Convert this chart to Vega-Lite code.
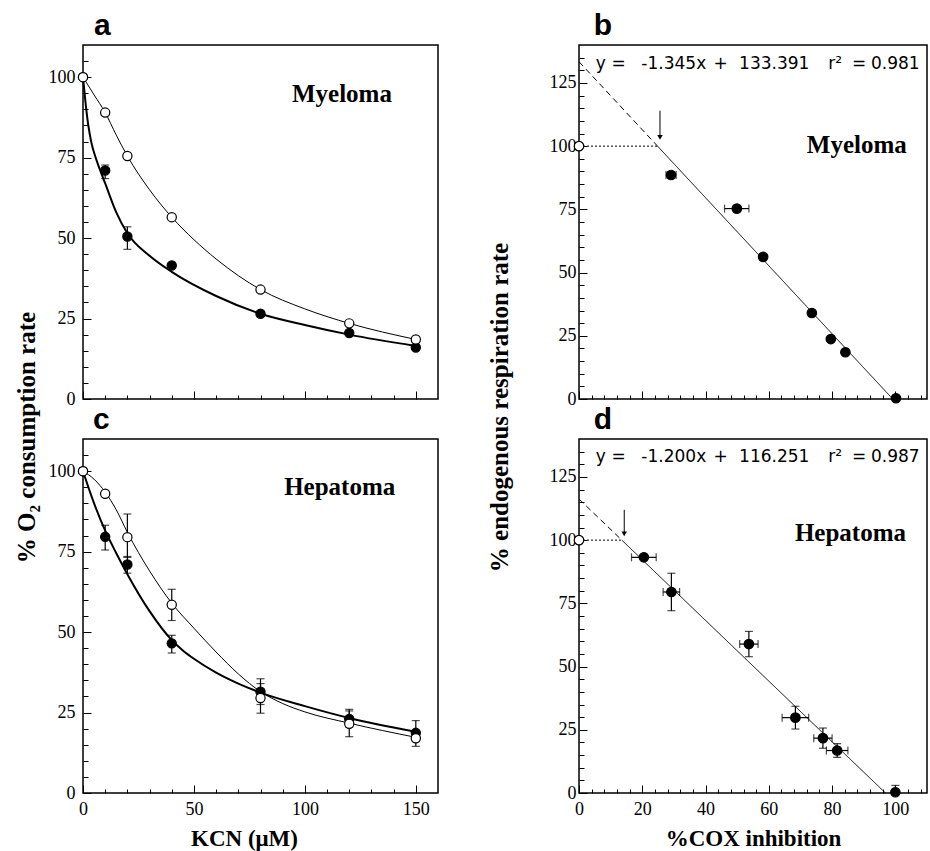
{
  "$schema": "https://vega.github.io/schema/vega-lite/v6.json",
  "background": "white",
  "padding": {"left": 13, "top": 10, "right": 0, "bottom": 0},
  "columns": 2,
  "bounds": "flush",
  "spacing": {"row": 40, "column": 141},
  "datasets": {
    "a_curve": [
      {"x": 0, "y": 100, "s": "filled"}, {"x": 1, "y": 93, "s": "filled"}, {"x": 2, "y": 87, "s": "filled"}, {"x": 3, "y": 82.5, "s": "filled"}, {"x": 4, "y": 79, "s": "filled"}, {"x": 5, "y": 76.5, "s": "filled"}, {"x": 7.5, "y": 71.5, "s": "filled"}, {"x": 10, "y": 67, "s": "filled"}, {"x": 15, "y": 58, "s": "filled"}, {"x": 20, "y": 51.5, "s": "filled"}, {"x": 30, "y": 44.5, "s": "filled"}, {"x": 40, "y": 39.5, "s": "filled"}, {"x": 60, "y": 32, "s": "filled"}, {"x": 80, "y": 26.5, "s": "filled"}, {"x": 100, "y": 23, "s": "filled"}, {"x": 120, "y": 20, "s": "filled"}, {"x": 150, "y": 16.5, "s": "filled"},
      {"x": 0, "y": 100, "s": "open"}, {"x": 5, "y": 94.5, "s": "open"}, {"x": 10, "y": 89, "s": "open"}, {"x": 15, "y": 82, "s": "open"}, {"x": 20, "y": 75.5, "s": "open"}, {"x": 30, "y": 65, "s": "open"}, {"x": 40, "y": 56.5, "s": "open"}, {"x": 50, "y": 49.5, "s": "open"}, {"x": 60, "y": 43.5, "s": "open"}, {"x": 80, "y": 34, "s": "open"}, {"x": 100, "y": 28, "s": "open"}, {"x": 120, "y": 23.5, "s": "open"}, {"x": 150, "y": 18.5, "s": "open"}
    ],
    "a_pts": [
      {"x": 0, "y": 100, "s": "filled"}, {"x": 10, "y": 71, "s": "filled"}, {"x": 20, "y": 50.5, "s": "filled"}, {"x": 40, "y": 41.5, "s": "filled"}, {"x": 80, "y": 26.5, "s": "filled"}, {"x": 120, "y": 20.5, "s": "filled"}, {"x": 150, "y": 16, "s": "filled"},
      {"x": 0, "y": 100, "s": "open"}, {"x": 10, "y": 89, "s": "open"}, {"x": 20, "y": 75.5, "s": "open"}, {"x": 40, "y": 56.5, "s": "open"}, {"x": 80, "y": 34, "s": "open"}, {"x": 120, "y": 23.5, "s": "open"}, {"x": 150, "y": 18.5, "s": "open"}
    ],
    "a_err": [
      {"x": 10, "lo": 68.5, "hi": 72.7}, {"x": 20, "lo": 46.5, "hi": 53.5}
    ],
    "c_curve": [
      {"x": 0, "y": 100, "s": "filled"}, {"x": 5, "y": 90, "s": "filled"}, {"x": 10, "y": 81.5, "s": "filled"}, {"x": 15, "y": 74.5, "s": "filled"}, {"x": 20, "y": 68, "s": "filled"}, {"x": 30, "y": 56.5, "s": "filled"}, {"x": 40, "y": 47.5, "s": "filled"}, {"x": 45, "y": 44.3, "s": "filled"}, {"x": 50, "y": 41.7, "s": "filled"}, {"x": 60, "y": 37.4, "s": "filled"}, {"x": 70, "y": 34, "s": "filled"}, {"x": 80, "y": 31.2, "s": "filled"}, {"x": 100, "y": 27, "s": "filled"}, {"x": 120, "y": 23.3, "s": "filled"}, {"x": 150, "y": 19, "s": "filled"},
      {"x": 0, "y": 100, "s": "open"}, {"x": 5, "y": 97.5, "s": "open"}, {"x": 10, "y": 93.5, "s": "open"}, {"x": 15, "y": 88, "s": "open"}, {"x": 20, "y": 81, "s": "open"}, {"x": 30, "y": 69, "s": "open"}, {"x": 40, "y": 59, "s": "open"}, {"x": 50, "y": 51.2, "s": "open"}, {"x": 60, "y": 43.8, "s": "open"}, {"x": 70, "y": 37, "s": "open"}, {"x": 80, "y": 31.5, "s": "open"}, {"x": 90, "y": 27.8, "s": "open"}, {"x": 100, "y": 25.2, "s": "open"}, {"x": 120, "y": 21.7, "s": "open"}, {"x": 150, "y": 17.3, "s": "open"}
    ],
    "c_pts": [
      {"x": 0, "y": 100, "s": "filled"}, {"x": 10, "y": 79.6, "s": "filled"}, {"x": 20, "y": 71, "s": "filled"}, {"x": 40, "y": 46.5, "s": "filled"}, {"x": 80, "y": 31.5, "s": "filled"}, {"x": 120, "y": 23, "s": "filled"}, {"x": 150, "y": 18.7, "s": "filled"},
      {"x": 0, "y": 100, "s": "open"}, {"x": 10, "y": 93, "s": "open"}, {"x": 20, "y": 79.5, "s": "open"}, {"x": 40, "y": 58.5, "s": "open"}, {"x": 80, "y": 29.5, "s": "open"}, {"x": 120, "y": 21.5, "s": "open"}, {"x": 150, "y": 17, "s": "open"}
    ],
    "c_err": [
      {"x": 10, "lo": 75.5, "hi": 83.2}, {"x": 20, "lo": 68.3, "hi": 73.5}, {"x": 40, "lo": 43.5, "hi": 49}, {"x": 80, "lo": 27.5, "hi": 35.5}, {"x": 120, "lo": 20.5, "hi": 25.5}, {"x": 150, "lo": 16, "hi": 22.5},
      {"x": 20, "lo": 73.2, "hi": 86.7}, {"x": 40, "lo": 53.6, "hi": 63.3}, {"x": 80, "lo": 24.8, "hi": 34}, {"x": 120, "lo": 17.5, "hi": 26}, {"x": 150, "lo": 14.5, "hi": 19}
    ],
    "b_lines": [
      {"x": 0, "y": 133.391, "s": "dash"}, {"x": 24.83, "y": 100, "s": "dash"},
      {"x": 24.83, "y": 100, "s": "solid"}, {"x": 99.17, "y": 0, "s": "solid"},
      {"x": 0, "y": 100, "s": "dot"}, {"x": 24.83, "y": 100, "s": "dot"}
    ],
    "b_pts": [
      {"x": 29.1, "y": 88.6, "s": "filled"}, {"x": 49.9, "y": 75.3, "s": "filled"}, {"x": 58.2, "y": 56.2, "s": "filled"}, {"x": 73.6, "y": 34, "s": "filled"}, {"x": 79.6, "y": 23.7, "s": "filled"}, {"x": 84.2, "y": 18.5, "s": "filled"}, {"x": 100.2, "y": 0.3, "s": "filled"},
      {"x": 0, "y": 100, "s": "open"}
    ],
    "b_xerr": [
      {"y": 88.6, "lo": 27.5, "hi": 30.7}, {"y": 75.3, "lo": 46, "hi": 53.7}
    ],
    "b_arrow": [{"x": 25.6, "y": 114, "y2": 104}],
    "b_head": [{"x": 25.6, "y": 103.5}],
    "b_eq": [
      {"x": 5.3, "y": 132.5, "t": "y"}, {"x": 10.3, "y": 132.5, "t": "="}, {"x": 19.7, "y": 132.5, "t": "-1.345x"}, {"x": 42.5, "y": 132.5, "t": "+"}, {"x": 50.6, "y": 132.5, "t": "133.391"}, {"x": 78.8, "y": 132.5, "t": "r²"}, {"x": 86.3, "y": 132.5, "t": "="}, {"x": 92.3, "y": 132.5, "t": "0.981"}
    ],
    "d_lines": [
      {"x": 0, "y": 116.251, "s": "dash"}, {"x": 13.54, "y": 100, "s": "dash"},
      {"x": 13.54, "y": 100, "s": "solid"}, {"x": 96.88, "y": 0, "s": "solid"},
      {"x": 0, "y": 100, "s": "dot"}, {"x": 13.54, "y": 100, "s": "dot"}
    ],
    "d_pts": [
      {"x": 20.5, "y": 93.2, "s": "filled"}, {"x": 29.2, "y": 79.5, "s": "filled"}, {"x": 53.7, "y": 58.9, "s": "filled"}, {"x": 68.4, "y": 29.8, "s": "filled"}, {"x": 77.1, "y": 21.7, "s": "filled"}, {"x": 81.6, "y": 16.8, "s": "filled"}, {"x": 100, "y": 0.3, "s": "filled"},
      {"x": 0, "y": 100, "s": "open"}
    ],
    "d_yerr": [
      {"x": 29.2, "lo": 72.1, "hi": 86.9}, {"x": 53.7, "lo": 53.9, "hi": 63.9}, {"x": 68.4, "lo": 25.3, "hi": 34.3}, {"x": 77.1, "lo": 17.7, "hi": 25.7}, {"x": 81.6, "lo": 14.1, "hi": 19.5}, {"x": 100, "lo": 0, "hi": 3}
    ],
    "d_xerr": [
      {"y": 93.2, "lo": 16.6, "hi": 24.4}, {"y": 79.5, "lo": 26.6, "hi": 31.8}, {"y": 58.9, "lo": 50.8, "hi": 56.6}, {"y": 29.8, "lo": 64.2, "hi": 72.6}, {"y": 21.7, "lo": 74.2, "hi": 80}, {"y": 16.8, "lo": 78.2, "hi": 85}
    ],
    "d_arrow": [{"x": 14.3, "y": 112, "y2": 103}],
    "d_head": [{"x": 14.3, "y": 102.5}],
    "d_eq": [
      {"x": 5.3, "y": 133, "t": "y"}, {"x": 10.3, "y": 133, "t": "="}, {"x": 19.7, "y": 133, "t": "-1.200x"}, {"x": 42.5, "y": 133, "t": "+"}, {"x": 50.6, "y": 133, "t": "116.251"}, {"x": 78.8, "y": 133, "t": "r²"}, {"x": 86.3, "y": 133, "t": "="}, {"x": 92.3, "y": 133, "t": "0.987"}
    ],
    "dummy": [{"x": 0, "y": 0}]
  },
  "concat": [
    {
      "width": 355, "height": 354,
      "resolve": {"scale": {"x": "independent", "y": "independent"}, "axis": {"x": "independent", "y": "independent"}},
      "layer": [
        {
          "layer": [
            {
              "data": {"name": "a_curve"},
              "mark": {"type": "line", "interpolate": "monotone", "color": "black"},
              "encoding": {
                "x": {"field": "x", "type": "quantitative", "scale": {"domain": [0, 160], "nice": false}, "axis": null},
                "y": {"field": "y", "type": "quantitative", "scale": {"domain": [0, 110], "nice": false}, "axis": null},
                "strokeWidth": {"field": "s", "type": "nominal", "scale": {"domain": ["filled", "open"], "range": [2, 1]}, "legend": null}
              }
            },
            {
              "data": {"name": "a_err"},
              "mark": {"type": "errorbar", "ticks": true, "size": 8, "thickness": 1.2, "color": "black"},
              "encoding": {
                "x": {"field": "x", "type": "quantitative", "axis": null},
                "y": {"field": "lo", "type": "quantitative", "axis": null},
                "y2": {"field": "hi"}
              }
            },
            {
              "data": {"name": "a_pts"},
              "mark": {"type": "point", "filled": true, "size": 85, "stroke": "black", "strokeWidth": 1.2, "opacity": 1},
              "encoding": {
                "x": {"field": "x", "type": "quantitative", "axis": null},
                "y": {"field": "y", "type": "quantitative", "axis": null},
                "fill": {"field": "s", "type": "nominal", "scale": {"domain": ["filled", "open"], "range": ["black", "white"]}, "legend": null}
              }
            },
            {
              "data": {"values": [{"x": 116.7, "y": 92.2, "t": "Myeloma"}]},
              "mark": {"type": "text", "font": "Liberation Serif", "fontWeight": "bold", "fontSize": 25, "align": "center", "baseline": "alphabetic", "color": "black"},
              "encoding": {
                "x": {"field": "x", "type": "quantitative", "axis": null},
                "y": {"field": "y", "type": "quantitative", "axis": null},
                "text": {"field": "t"}
              }
            },
            {
              "data": {"values": [{"x": 5, "y": 113.1, "t": "a"}]},
              "mark": {"type": "text", "font": "Liberation Sans", "fontWeight": "bold", "fontSize": 30, "align": "left", "baseline": "alphabetic", "color": "black"},
              "encoding": {
                "x": {"field": "x", "type": "quantitative", "axis": null},
                "y": {"field": "y", "type": "quantitative", "axis": null},
                "text": {"field": "t"}
              }
            }
          ]
        },
        {
          "data": {"name": "dummy"},
          "mark": {"type": "point", "opacity": 0},
          "encoding": {
            "x": {"field": "x", "type": "quantitative", "scale": {"domain": [0, 160], "nice": false}, "axis": {"orient": "bottom", "values": [0, 50, 100, 150], "labels": false, "tickSize": -8, "title": null}},
            "y": {"field": "y", "type": "quantitative", "scale": {"domain": [0, 110], "nice": false}, "axis": {"orient": "left", "values": [0, 25, 50, 75, 100], "tickSize": -8, "labelPadding": 16, "title": "% O₂ consumption rate", "titleX": -44, "titleY": 392, "titleBaseline": "bottom"}}
          }
        },
        {
          "data": {"name": "dummy"},
          "mark": {"type": "point", "opacity": 0},
          "encoding": {
            "x": {"field": "x", "type": "quantitative", "scale": {"domain": [0, 160], "nice": false}, "axis": {"orient": "bottom", "values": [10, 20, 30, 40, 60, 70, 80, 90, 110, 120, 130, 140], "labels": false, "tickSize": -4, "title": null}},
            "y": {"field": "y", "type": "quantitative", "scale": {"domain": [0, 110], "nice": false}, "axis": {"orient": "left", "values": [5, 10, 15, 20, 30, 35, 40, 45, 55, 60, 65, 70, 80, 85, 90, 95, 105], "labels": false, "tickSize": -5, "title": null}}
          }
        }
      ]
    },
    {
      "width": 348, "height": 354,
      "resolve": {"scale": {"x": "independent", "y": "independent"}, "axis": {"x": "independent", "y": "independent"}},
      "layer": [
        {
          "layer": [
            {
              "data": {"name": "b_lines"},
              "mark": {"type": "line", "color": "black", "strokeWidth": 1},
              "encoding": {
                "x": {"field": "x", "type": "quantitative", "scale": {"domain": [0, 110], "nice": false}, "axis": null},
                "y": {"field": "y", "type": "quantitative", "scale": {"domain": [0, 140], "nice": false}, "axis": null},
                "strokeDash": {"field": "s", "type": "nominal", "scale": {"domain": ["solid", "dash", "dot"], "range": [[1, 0], [6, 4], [2, 2]]}, "legend": null}
              }
            },
            {
              "data": {"name": "b_xerr"},
              "mark": {"type": "errorbar", "ticks": true, "size": 8, "thickness": 1.2, "color": "black"},
              "encoding": {
                "y": {"field": "y", "type": "quantitative", "axis": null},
                "x": {"field": "lo", "type": "quantitative", "axis": null},
                "x2": {"field": "hi"}
              }
            },
            {
              "data": {"name": "b_arrow"},
              "mark": {"type": "rule", "color": "black", "strokeWidth": 1},
              "encoding": {
                "x": {"field": "x", "type": "quantitative", "axis": null},
                "y": {"field": "y", "type": "quantitative", "axis": null},
                "y2": {"field": "y2"}
              }
            },
            {
              "data": {"name": "b_head"},
              "mark": {"type": "point", "shape": "triangle-down", "filled": true, "size": 30, "color": "black", "opacity": 1},
              "encoding": {
                "x": {"field": "x", "type": "quantitative", "axis": null},
                "y": {"field": "y", "type": "quantitative", "axis": null}
              }
            },
            {
              "data": {"name": "b_pts"},
              "mark": {"type": "point", "filled": true, "size": 90, "stroke": "black", "strokeWidth": 1.2, "opacity": 1},
              "encoding": {
                "x": {"field": "x", "type": "quantitative", "axis": null},
                "y": {"field": "y", "type": "quantitative", "axis": null},
                "fill": {"field": "s", "type": "nominal", "scale": {"domain": ["filled", "open"], "range": ["black", "white"]}, "legend": null}
              }
            },
            {
              "data": {"name": "b_eq"},
              "mark": {"type": "text", "font": "DejaVu Sans", "fontSize": 17, "align": "left", "baseline": "middle", "color": "black"},
              "encoding": {
                "x": {"field": "x", "type": "quantitative", "axis": null},
                "y": {"field": "y", "type": "quantitative", "axis": null},
                "text": {"field": "t"}
              }
            },
            {
              "data": {"values": [{"x": 87.8, "y": 97.2, "t": "Myeloma"}]},
              "mark": {"type": "text", "font": "Liberation Serif", "fontWeight": "bold", "fontSize": 25, "align": "center", "baseline": "alphabetic", "color": "black"},
              "encoding": {
                "x": {"field": "x", "type": "quantitative", "axis": null},
                "y": {"field": "y", "type": "quantitative", "axis": null},
                "text": {"field": "t"}
              }
            },
            {
              "data": {"values": [{"x": 4.7, "y": 144, "t": "b"}]},
              "mark": {"type": "text", "font": "Liberation Sans", "fontWeight": "bold", "fontSize": 30, "align": "left", "baseline": "alphabetic", "color": "black"},
              "encoding": {
                "x": {"field": "x", "type": "quantitative", "axis": null},
                "y": {"field": "y", "type": "quantitative", "axis": null},
                "text": {"field": "t"}
              }
            }
          ]
        },
        {
          "data": {"name": "dummy"},
          "mark": {"type": "point", "opacity": 0},
          "encoding": {
            "x": {"field": "x", "type": "quantitative", "scale": {"domain": [0, 110], "nice": false}, "axis": {"orient": "bottom", "values": [0, 20, 40, 60, 80, 100], "labels": false, "tickSize": -8, "title": null}},
            "y": {"field": "y", "type": "quantitative", "scale": {"domain": [0, 140], "nice": false}, "axis": {"orient": "left", "values": [0, 25, 50, 75, 100, 125], "tickSize": -8, "labelPadding": 11, "title": "% endogenous respiration rate", "titleX": -67, "titleY": 362, "titleBaseline": "bottom"}}
          }
        },
        {
          "data": {"name": "dummy"},
          "mark": {"type": "point", "opacity": 0},
          "encoding": {
            "x": {"field": "x", "type": "quantitative", "scale": {"domain": [0, 110], "nice": false}, "axis": {"orient": "bottom", "values": [4, 8, 12, 16, 24, 28, 32, 36, 44, 48, 52, 56, 64, 68, 72, 76, 84, 88, 92, 96, 104, 108], "labels": false, "tickSize": -4, "title": null}},
            "y": {"field": "y", "type": "quantitative", "scale": {"domain": [0, 140], "nice": false}, "axis": {"orient": "left", "values": [5, 10, 15, 20, 30, 35, 40, 45, 55, 60, 65, 70, 80, 85, 90, 95, 105, 110, 115, 120, 130, 135], "labels": false, "tickSize": -5, "title": null}}
          }
        }
      ]
    },
    {
      "width": 355, "height": 354,
      "resolve": {"scale": {"x": "independent", "y": "independent"}, "axis": {"x": "independent", "y": "independent"}},
      "layer": [
        {
          "layer": [
            {
              "data": {"name": "c_curve"},
              "mark": {"type": "line", "interpolate": "monotone", "color": "black"},
              "encoding": {
                "x": {"field": "x", "type": "quantitative", "scale": {"domain": [0, 160], "nice": false}, "axis": null},
                "y": {"field": "y", "type": "quantitative", "scale": {"domain": [0, 110], "nice": false}, "axis": null},
                "strokeWidth": {"field": "s", "type": "nominal", "scale": {"domain": ["filled", "open"], "range": [2, 1]}, "legend": null}
              }
            },
            {
              "data": {"name": "c_err"},
              "mark": {"type": "errorbar", "ticks": true, "size": 8, "thickness": 1.2, "color": "black"},
              "encoding": {
                "x": {"field": "x", "type": "quantitative", "axis": null},
                "y": {"field": "lo", "type": "quantitative", "axis": null},
                "y2": {"field": "hi"}
              }
            },
            {
              "data": {"name": "c_pts"},
              "mark": {"type": "point", "filled": true, "size": 85, "stroke": "black", "strokeWidth": 1.2, "opacity": 1},
              "encoding": {
                "x": {"field": "x", "type": "quantitative", "axis": null},
                "y": {"field": "y", "type": "quantitative", "axis": null},
                "fill": {"field": "s", "type": "nominal", "scale": {"domain": ["filled", "open"], "range": ["black", "white"]}, "legend": null}
              }
            },
            {
              "data": {"values": [{"x": 115.7, "y": 92.6, "t": "Hepatoma"}]},
              "mark": {"type": "text", "font": "Liberation Serif", "fontWeight": "bold", "fontSize": 25, "align": "center", "baseline": "alphabetic", "color": "black"},
              "encoding": {
                "x": {"field": "x", "type": "quantitative", "axis": null},
                "y": {"field": "y", "type": "quantitative", "axis": null},
                "text": {"field": "t"}
              }
            },
            {
              "data": {"values": [{"x": 4.5, "y": 113.1, "t": "c"}]},
              "mark": {"type": "text", "font": "Liberation Sans", "fontWeight": "bold", "fontSize": 30, "align": "left", "baseline": "alphabetic", "color": "black"},
              "encoding": {
                "x": {"field": "x", "type": "quantitative", "axis": null},
                "y": {"field": "y", "type": "quantitative", "axis": null},
                "text": {"field": "t"}
              }
            }
          ]
        },
        {
          "data": {"name": "dummy"},
          "mark": {"type": "point", "opacity": 0},
          "encoding": {
            "x": {"field": "x", "type": "quantitative", "scale": {"domain": [0, 160], "nice": false}, "axis": {"orient": "bottom", "values": [0, 50, 100, 150], "tickSize": -8, "labelPadding": 15, "title": "KCN (μM)", "titleFontSize": 23, "titleX": 161, "titleY": 52, "titleBaseline": "alphabetic"}},
            "y": {"field": "y", "type": "quantitative", "scale": {"domain": [0, 110], "nice": false}, "axis": {"orient": "left", "values": [0, 25, 50, 75, 100], "tickSize": -8, "labelPadding": 16, "title": null}}
          }
        },
        {
          "data": {"name": "dummy"},
          "mark": {"type": "point", "opacity": 0},
          "encoding": {
            "x": {"field": "x", "type": "quantitative", "scale": {"domain": [0, 160], "nice": false}, "axis": {"orient": "bottom", "values": [10, 20, 30, 40, 60, 70, 80, 90, 110, 120, 130, 140], "labels": false, "tickSize": -4, "title": null}},
            "y": {"field": "y", "type": "quantitative", "scale": {"domain": [0, 110], "nice": false}, "axis": {"orient": "left", "values": [5, 10, 15, 20, 30, 35, 40, 45, 55, 60, 65, 70, 80, 85, 90, 95, 105], "labels": false, "tickSize": -5, "title": null}}
          }
        }
      ]
    },
    {
      "width": 348, "height": 354,
      "resolve": {"scale": {"x": "independent", "y": "independent"}, "axis": {"x": "independent", "y": "independent"}},
      "layer": [
        {
          "layer": [
            {
              "data": {"name": "d_lines"},
              "mark": {"type": "line", "color": "black", "strokeWidth": 1},
              "encoding": {
                "x": {"field": "x", "type": "quantitative", "scale": {"domain": [0, 110], "nice": false}, "axis": null},
                "y": {"field": "y", "type": "quantitative", "scale": {"domain": [0, 140], "nice": false}, "axis": null},
                "strokeDash": {"field": "s", "type": "nominal", "scale": {"domain": ["solid", "dash", "dot"], "range": [[1, 0], [6, 4], [2, 2]]}, "legend": null}
              }
            },
            {
              "data": {"name": "d_yerr"},
              "mark": {"type": "errorbar", "ticks": true, "size": 8, "thickness": 1.2, "color": "black"},
              "encoding": {
                "x": {"field": "x", "type": "quantitative", "axis": null},
                "y": {"field": "lo", "type": "quantitative", "axis": null},
                "y2": {"field": "hi"}
              }
            },
            {
              "data": {"name": "d_xerr"},
              "mark": {"type": "errorbar", "ticks": true, "size": 8, "thickness": 1.2, "color": "black"},
              "encoding": {
                "y": {"field": "y", "type": "quantitative", "axis": null},
                "x": {"field": "lo", "type": "quantitative", "axis": null},
                "x2": {"field": "hi"}
              }
            },
            {
              "data": {"name": "d_arrow"},
              "mark": {"type": "rule", "color": "black", "strokeWidth": 1},
              "encoding": {
                "x": {"field": "x", "type": "quantitative", "axis": null},
                "y": {"field": "y", "type": "quantitative", "axis": null},
                "y2": {"field": "y2"}
              }
            },
            {
              "data": {"name": "d_head"},
              "mark": {"type": "point", "shape": "triangle-down", "filled": true, "size": 30, "color": "black", "opacity": 1},
              "encoding": {
                "x": {"field": "x", "type": "quantitative", "axis": null},
                "y": {"field": "y", "type": "quantitative", "axis": null}
              }
            },
            {
              "data": {"name": "d_pts"},
              "mark": {"type": "point", "filled": true, "size": 90, "stroke": "black", "strokeWidth": 1.2, "opacity": 1},
              "encoding": {
                "x": {"field": "x", "type": "quantitative", "axis": null},
                "y": {"field": "y", "type": "quantitative", "axis": null},
                "fill": {"field": "s", "type": "nominal", "scale": {"domain": ["filled", "open"], "range": ["black", "white"]}, "legend": null}
              }
            },
            {
              "data": {"name": "d_eq"},
              "mark": {"type": "text", "font": "DejaVu Sans", "fontSize": 17, "align": "left", "baseline": "middle", "color": "black"},
              "encoding": {
                "x": {"field": "x", "type": "quantitative", "axis": null},
                "y": {"field": "y", "type": "quantitative", "axis": null},
                "text": {"field": "t"}
              }
            },
            {
              "data": {"values": [{"x": 85.8, "y": 99.6, "t": "Hepatoma"}]},
              "mark": {"type": "text", "font": "Liberation Serif", "fontWeight": "bold", "fontSize": 25, "align": "center", "baseline": "alphabetic", "color": "black"},
              "encoding": {
                "x": {"field": "x", "type": "quantitative", "axis": null},
                "y": {"field": "y", "type": "quantitative", "axis": null},
                "text": {"field": "t"}
              }
            },
            {
              "data": {"values": [{"x": 4.7, "y": 144, "t": "d"}]},
              "mark": {"type": "text", "font": "Liberation Sans", "fontWeight": "bold", "fontSize": 30, "align": "left", "baseline": "alphabetic", "color": "black"},
              "encoding": {
                "x": {"field": "x", "type": "quantitative", "axis": null},
                "y": {"field": "y", "type": "quantitative", "axis": null},
                "text": {"field": "t"}
              }
            }
          ]
        },
        {
          "data": {"name": "dummy"},
          "mark": {"type": "point", "opacity": 0},
          "encoding": {
            "x": {"field": "x", "type": "quantitative", "scale": {"domain": [0, 110], "nice": false}, "axis": {"orient": "bottom", "values": [0, 20, 40, 60, 80, 100], "tickSize": -8, "labelPadding": 15, "title": "%COX inhibition", "titleFontSize": 23, "titleX": 174, "titleY": 52, "titleBaseline": "alphabetic"}},
            "y": {"field": "y", "type": "quantitative", "scale": {"domain": [0, 140], "nice": false}, "axis": {"orient": "left", "values": [0, 25, 50, 75, 100, 125], "tickSize": -8, "labelPadding": 11, "title": null}}
          }
        },
        {
          "data": {"name": "dummy"},
          "mark": {"type": "point", "opacity": 0},
          "encoding": {
            "x": {"field": "x", "type": "quantitative", "scale": {"domain": [0, 110], "nice": false}, "axis": {"orient": "bottom", "values": [4, 8, 12, 16, 24, 28, 32, 36, 44, 48, 52, 56, 64, 68, 72, 76, 84, 88, 92, 96, 104, 108], "labels": false, "tickSize": -4, "title": null}},
            "y": {"field": "y", "type": "quantitative", "scale": {"domain": [0, 140], "nice": false}, "axis": {"orient": "left", "values": [5, 10, 15, 20, 30, 35, 40, 45, 55, 60, 65, 70, 80, 85, 90, 95, 105, 110, 115, 120, 130, 135], "labels": false, "tickSize": -5, "title": null}}
          }
        }
      ]
    }
  ],
  "config": {
    "view": {"stroke": "black", "strokeWidth": 1.5},
    "axis": {"grid": false, "domain": false, "tickColor": "black", "tickWidth": 1, "labelColor": "black", "labelFont": "Liberation Serif", "labelFontSize": 18, "labelFlush": false, "titleColor": "black", "titleFont": "Liberation Serif", "titleFontSize": 25, "titleFontWeight": "bold"}
  }
}
